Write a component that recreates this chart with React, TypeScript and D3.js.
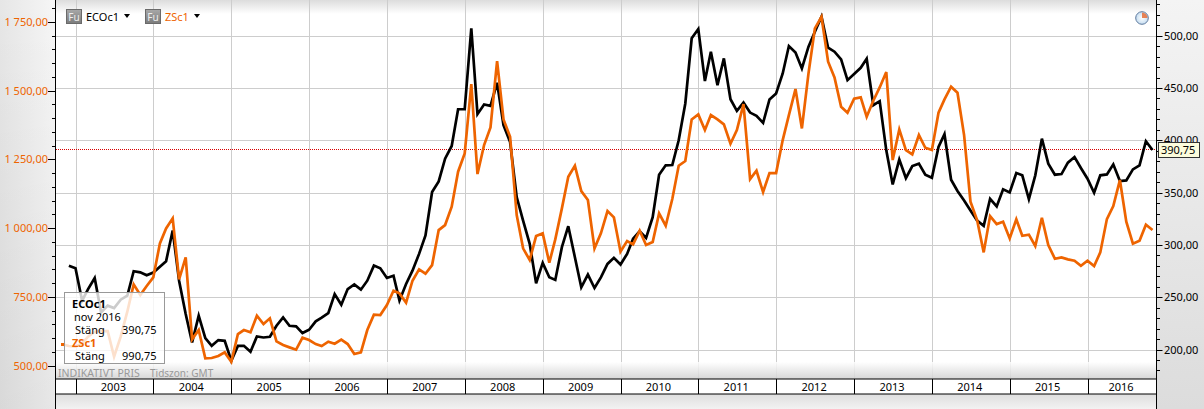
import React from "react";
import * as d3 from "d3";

const years = [2003,2004,2005,2006,2007,2008,2009,2010,2011,2012,2013,2014,2015,2016];
const leftTicks = [500,750,1000,1250,1500,1750];
const rightTicks = [200,250,300,350,400,450,500];
const leftLabels = ["500,00","750,00","1 000,00","1 250,00","1 500,00","1 750,00"];
const rightLabels = ["200,00","250,00","300,00","350,00","400,00","450,00","500,00"];

// ECOc1 monthly, from Dec 2002
const ecoValues = [
280,277.6,246.7,257.8,268.4,235.5,241.9,239.6,247.6,251.4,274.8,273.8,270.9,273.5,279.2,284.4,313.8,265.8,233.9,206.7,
232.3,210.9,203.5,209,208.3,189.2,203.5,203.5,197.8,212.5,211.5,212.2,222.7,230.7,222.7,222.1,215.7,218.9,226.9,230.4,
234.8,253,242.8,257.8,262.3,257.2,265.8,280.2,277.6,268.4,270.6,246.7,
262.6,275.4,291.4,309,350.5,360.7,382.4,394.6,429.7,429.7,507,425,434.2,432.9,455,414.4,398.4,345.7,323.3,301,
263.3,282.8,269,266.5,297.8,317.9,288.2,259.4,271.6,258.8,269,281.8,287.6,281.2,291.4,305.8,313.1,306.7,326.5,367.1,
376.1,376.4,400,435.2,497.5,506.4,456.6,484.7,452.7,478.3,439.3,428.1,436.1,426.5,423.3,416.6,439,444.7,463.9,490.1,484,468.7,
489.5,503.8,518.2,488.5,484.7,477.3,457.5,463.3,469.3,478,433.6,437.4,390.4,357.8,381.5,363.9,375.4,377.7,367.1,364.2,
393.6,405.8,362.3,351.5,342.5,332.9,323.3,318.2,344.1,336.8,353.1,350.2,368.7,366.5,343.8,366.5,401.6,377.7,367.1,367.7,
378.6,384,373.5,363.3,349.9,366.5,367.4,377,361,361.7,372.2,376.1,399.1,390.75,
];

// ZSc1 monthly, from Nov 2002
const zsValues = [
577.6,571.5,569.1,581.2,605.5,623.6,626.1,626.1,532.7,605.5,696.4,795.8,757,789.7,821.2,944.9,999.4,1035.8,814,894,
595.8,629.7,526.7,527.9,535.2,548.5,514.6,615.2,629.7,621.2,681.8,651.5,672.2,588.5,575.2,566.7,558.2,601.8,593.4,578.8,
571.5,587.3,580,594.5,578.8,542.4,548.5,629.7,685.5,684.3,720.6,772.7,763,
729.1,809.1,850.3,834.6,866,993.3,1011.5,1078.2,1205.5,1272.1,1524.2,1197,1302.4,1366.7,1607.9,1395.8,1332.7,1047.9,926.7,884.3,
971.5,981.2,874.6,959.4,1072.1,1187.3,1227.3,1135.2,1102.4,926.7,981.2,1062.4,1039.4,914.6,953.3,941.2,990.9,938.8,949.7,1054,
1009.1,1106.1,1227.3,1244.3,1395.8,1414,1357,1411.5,1395.8,1377.6,1307.3,1357,1451.5,1178.8,1209.1,1131.5,1200.6,1200.6,1320.6,1411.5,1506.1,1363,
1563,1726.7,1769.1,1605.5,1548.5,1441.8,1420,1470.9,1475.8,1405.5,1463.6,1512.1,1567.9,1247.9,1359.4,1284.3,1268.5,1338.8,1292.7,1284.3,
1420,1468.5,1514.6,1492.7,1338.8,1096.4,1029.7,912.1,1044.3,1015.2,1023.6,963,1032.1,972.7,976.4,935.2,1038.2,938.8,889.1,893.9,
886.7,881.8,863.6,881.8,862.4,912.1,1033.3,1080.6,1175.2,1023.6,943.7,954.6,1012.7,993.3,
];

const W = 1204, H = 409;
const plotL = 55.5, plotR = 1156.5, axisTop = 379, axisBot = 394;
const x = d3.scaleTime().domain([new Date(2003,0,1), new Date(2016,0,1)]).range([75.5, 1087.5]);
const yL = d3.scaleLinear().domain([500,1750]).range([365.7,22]);
const yR = d3.scaleLinear().domain([200,500]).range([349.5,35.7]);
const ecoDates = ecoValues.map((_, i) => new Date(2002, 11 + i, 1));
const zsDates = zsValues.map((_, i) => new Date(2002, 10 + i, 1));
const ecoPath = d3.line<number>().x((_, i) => x(ecoDates[i])).y(d => yR(d))(ecoValues) as string;
const zsPath = d3.line<number>().x((_, i) => x(zsDates[i])).y(d => yL(d))(zsValues) as string;
const leftMinor = d3.range(500, 1850, 50);
const rightMinor = d3.range(180, 540, 10);
const yearTicks = years.map(yr => new Date(yr,0,1));
const font = "'Noto Sans', 'DejaVu Sans', sans-serif";
const orange = "#ee6400";
const last = ecoValues[ecoValues.length - 1];
const fmt = (v: number) => d3.format(".2f")(v).replace(".", ",");

export default function App() {
  const g = (s: number) => Math.round(s) + 0.5;
  return (
    <svg width={W} height={H} style={{ position: "fixed", left: 0, top: 0, display: "block" }} fontFamily={font}>
      <defs>
        <linearGradient id="leftG" x1="0" x2="1" y1="0" y2="0">
          <stop offset="0" stopColor="#e6e6e6" /><stop offset="1" stopColor="#f6f6f6" />
        </linearGradient>
        <linearGradient id="shade" x1="0" x2="0" y1="0" y2="1">
          <stop offset="0" stopColor="#000" stopOpacity={0} /><stop offset="1" stopColor="#000" stopOpacity={0.06} />
        </linearGradient>
        <linearGradient id="rightG" x1="0" x2="0" y1="0" y2="1">
          <stop offset="0" stopColor="#f4f4f4" /><stop offset="1" stopColor="#dcdcdc" />
        </linearGradient>
        <linearGradient id="topG" x1="0" x2="0" y1="0" y2="1">
          <stop offset="0" stopColor="#dcdcdc" /><stop offset="1" stopColor="#ffffff" />
        </linearGradient>
        <linearGradient id="botG" x1="0" x2="0" y1="0" y2="1">
          <stop offset="0" stopColor="#ffffff" /><stop offset="1" stopColor="#d0d0d0" />
        </linearGradient>
        <linearGradient id="footG" x1="0" x2="0" y1="0" y2="1">
          <stop offset="0" stopColor="#dedede" /><stop offset="1" stopColor="#f2f2f2" />
        </linearGradient>
        <linearGradient id="iconG" x1="0" x2="0" y1="0" y2="1">
          <stop offset="0" stopColor="#a8a8a8" /><stop offset="1" stopColor="#7c7c7c" />
        </linearGradient>
        <radialGradient id="clockG">
          <stop offset="0" stopColor="#ffffff" /><stop offset="1" stopColor="#c4dcf0" />
        </radialGradient>
      </defs>
      <rect width={W} height={H} fill="#fff" />
      <rect x={0} y={0} width={plotL} height={H} fill="url(#leftG)" />
      <rect x={0} y={0} width={plotL} height={H} fill="url(#shade)" />
      <rect x={plotR} y={0} width={W - plotR} height={H} fill="url(#rightG)" />
      <rect x={plotL} y={0} width={plotR - plotL} height={14} fill="url(#topG)" />
      <rect x={plotL} y={axisBot} width={plotR - plotL} height={H - axisBot} fill="url(#footG)" />

      {rightTicks.map(t => (
        <line key={t} x1={plotL} x2={plotR} y1={g(yR(t))} y2={g(yR(t))} stroke="#cdcdcd" strokeWidth={1} />
      ))}
      {yearTicks.map((d, i) => (
        <line key={i} x1={g(x(d))} x2={g(x(d))} y1={0} y2={axisTop} stroke="#cdcdcd" strokeWidth={1} />
      ))}
      <rect x={plotL} y={362} width={plotR - plotL} height={axisTop - 362} fill="url(#botG)" fillOpacity={0.85} />
      <rect x={plotL} y={axisTop} width={plotR - plotL} height={axisBot - axisTop} fill="#fff" />

      <line x1={56} x2={plotR} y1={149.5} y2={149.5} stroke="#d80000" strokeWidth={1} strokeDasharray="1 1" />

      <path d={ecoPath} fill="none" stroke="#000" strokeWidth={2.7} strokeLinejoin="miter" />
      <path d={zsPath} fill="none" stroke={orange} strokeWidth={2.7} strokeLinejoin="miter" />

      {/* axes */}
      <line x1={55.5} x2={55.5} y1={0} y2={H} stroke="#000" strokeWidth={1} />
      <line x1={plotR} x2={plotR} y1={0} y2={H} stroke="#000" strokeWidth={1} />
      {leftMinor.map(t => (
        <line key={t} x1={t % 250 === 0 ? 48 : 52} x2={55} y1={g(yL(t))} y2={g(yL(t))} stroke="#000" strokeWidth={1} />
      ))}
      {rightMinor.map(t => (
        <line key={t} x1={plotR} x2={t % 50 === 0 ? plotR + 6 : plotR + 3.5} y1={g(yR(t))} y2={g(yR(t))} stroke="#000" strokeWidth={1} />
      ))}
      {leftTicks.map((t, i) => (
        <text key={t} x={48} y={yL(t) + 4} textAnchor="end" fontSize={11} fill={orange}>{leftLabels[i]}</text>
      ))}
      {rightTicks.map((t, i) => (
        <text key={t} x={1164} y={yR(t) + 4} fontSize={11} fill="#000">{rightLabels[i]}</text>
      ))}

      {/* time axis */}
      <line x1={plotL} x2={plotR} y1={axisTop} y2={axisTop} stroke="#000" strokeWidth={1} />
      <line x1={plotL} x2={plotR} y1={axisBot} y2={axisBot} stroke="#000" strokeWidth={1} />
      {yearTicks.map((d, i) => (
        <line key={i} x1={g(x(d))} x2={g(x(d))} y1={axisTop} y2={axisBot} stroke="#000" strokeWidth={1} />
      ))}
      {years.map((yr, i) => {
        const a = x(yearTicks[i]);
        const b = i < years.length - 1 ? x(yearTicks[i + 1]) : plotR;
        return <text key={yr} x={(a + b) / 2 - 1} y={391} textAnchor="middle" fontSize={11} fill="#000">{yr}</text>;
      })}
      <text x={58} y={377} fontSize={10.5} fill="#999">INDIKATIVT PRIS</text>
      <text x={150} y={377} fontSize={10} fill="#999">Tidszon: GMT</text>

      {/* legend */}
      <rect x={66.5} y={9.5} width={15} height={14} fill="url(#iconG)" stroke="#6a6a6a" />
      <text x={74} y={20.5} textAnchor="middle" fontSize={10} fill="#eee">Fu</text>
      <text x={86} y={21} fontSize={11} fill="#000">ECOc1</text>
      <path d="M124,14 h6 l-3,4 z" fill="#000" />
      <rect x={145.5} y={9.5} width={15} height={14} fill="url(#iconG)" stroke="#6a6a6a" />
      <text x={153} y={20.5} textAnchor="middle" fontSize={10} fill="#eee">Fu</text>
      <text x={165} y={21} fontSize={11} fill={orange}>ZSc1</text>
      <path d="M194,14 h6 l-3,4 z" fill="#000" />

      {/* clock */}
      <circle cx={1142} cy={18} r={6.3} fill="url(#clockG)" stroke="#5f7a9e" />
      <path d="M1142,18 V12.5 A5.5,5.5 0 0 1 1147.5,18 Z" fill="#e8703a" opacity={0.85} />

      {/* hover tooltip */}
      <rect x={64.5} y={292.5} width={100} height={71} fill="#fff" fillOpacity={0.8} stroke="#999" />
      <rect x={61} y={343} width={3} height={3} fill={orange} />
      <g fontSize={11} fill="#000">
        <text x={72} y={308} fontWeight="bold">ECOc1</text>
        <text x={74} y={321}>nov 2016</text>
        <text x={75} y={334}>Stäng</text>
        <text x={156.5} y={334} textAnchor="end">{fmt(last)}</text>
        <text x={72} y={347} fontWeight="bold" fill={orange}>ZSc1</text>
        <text x={75} y={360}>Stäng</text>
        <text x={156.5} y={360} textAnchor="end">990,75</text>
      </g>

      {/* price tag */}
      <rect x={1158.5} y={142.5} width={41} height={15} fill="#fcfcdc" stroke="#333" />
      <text x={1161} y={154} fontSize={11} fill="#000">{fmt(last)}</text>
    </svg>
  );
}
